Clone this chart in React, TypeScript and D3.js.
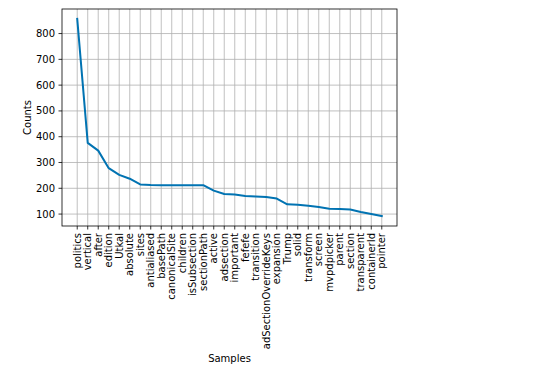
import React from "react";
import * as d3 from "d3";

const samples = [
  "politics", "vertical", "after", "edition", "Utkal", "absolute", "sites",
  "antialiased", "basePath", "canonicalSite", "children", "isSubsection",
  "sectionPath", "active", "adsection", "important", "fefefe", "transition",
  "adSectionOverrideKeys", "expansion", "Trump", "solid", "transform", "screen",
  "mvpdpicker", "parent", "section", "transparent", "containerId", "pointer",
];
const counts = [
  857, 376, 346, 278, 252, 237, 215, 213, 212, 212, 212, 212,
  212, 191, 178, 176, 170, 168, 166, 160, 138, 136, 132, 127,
  121, 120, 118, 108, 100, 92,
];
const yTicks = [100, 200, 300, 400, 500, 600, 700, 800];

const W = 557, H = 374;
const M = { left: 62, right: 397, top: 9, bottom: 226 };
const FONT = "DejaVu Sans, sans-serif";

export default function App() {
  const n = samples.length;
  const xPad = (n - 1) * 0.05;
  const x = d3.scaleLinear().domain([-xPad, n - 1 + xPad]).range([M.left, M.right]);
  const yMin = d3.min(counts)!, yMax = d3.max(counts)!;
  const yPad = (yMax - yMin) * 0.05;
  const y = d3.scaleLinear().domain([yMin - yPad, yMax + yPad]).range([M.bottom, M.top]);
  const line = d3.line<number>().x((_, i) => x(i)).y((d) => y(d));

  return (
    <svg width={W} height={H} style={{ position: "absolute", left: 0, top: 0, background: "#fff" }} fontFamily={FONT}>
      <rect x={0} y={0} width={W} height={H} fill="#fff" />
      {/* grid */}
      {samples.map((_, i) => (
        <line key={"gx" + i} x1={x(i)} x2={x(i)} y1={M.top} y2={M.bottom} stroke="#b0b0b0" strokeWidth={0.8} />
      ))}
      {yTicks.map((t) => (
        <line key={"gy" + t} x1={M.left} x2={M.right} y1={y(t)} y2={y(t)} stroke="#b0b0b0" strokeWidth={0.8} />
      ))}
      <path d={line(counts)!} fill="none" stroke="#0173b2" strokeWidth={2} strokeLinejoin="round" strokeLinecap="square" />
      <rect x={M.left} y={M.top} width={M.right - M.left} height={M.bottom - M.top} fill="none" stroke="#000" strokeWidth={0.8} />
      {/* y ticks */}
      {yTicks.map((t) => (
        <g key={"yt" + t}>
          <line x1={M.left - 3.5} x2={M.left} y1={y(t)} y2={y(t)} stroke="#000" strokeWidth={0.8} />
          <text x={M.left - 7} y={y(t)} dy="0.35em" textAnchor="end" fontSize={10} fill="#000">{t}</text>
        </g>
      ))}
      {/* x ticks */}
      {samples.map((s, i) => (
        <g key={"xt" + i}>
          <line x1={x(i)} x2={x(i)} y1={M.bottom} y2={M.bottom + 3.5} stroke="#000" strokeWidth={0.8} />
          <text transform={`translate(${x(i)},${M.bottom + 7}) rotate(-90)`} dy="0.35em" textAnchor="end" fontSize={10} fill="#000">{s}</text>
        </g>
      ))}
      <text transform={`translate(31,${(M.top + M.bottom) / 2}) rotate(-90)`} textAnchor="middle" fontSize={10} fill="#000">Counts</text>
      <text x={(M.left + M.right) / 2} y={362} textAnchor="middle" fontSize={10} fill="#000">Samples</text>
    </svg>
  );
}
